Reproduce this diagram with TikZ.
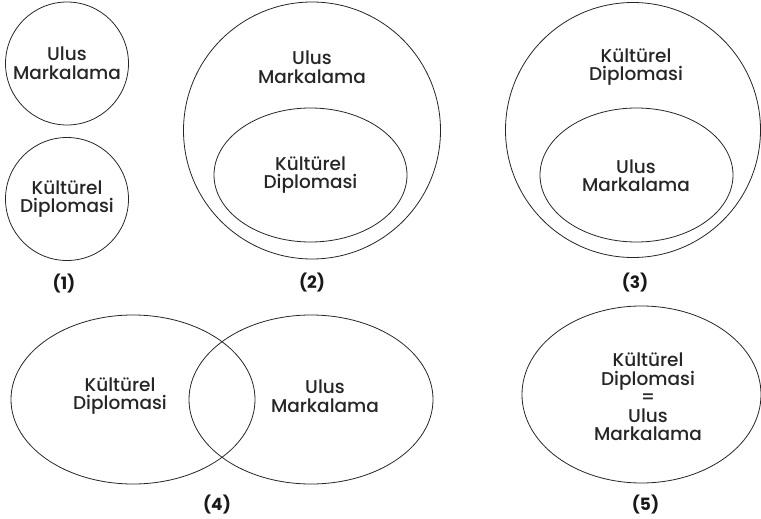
\documentclass[tikz,border=0pt]{standalone}
\usepackage{fontspec}
\setmainfont{Poppins}
\newfontfamily\medfont{Poppins Medium}
\usepackage{tikz}
\usetikzlibrary{positioning}

\tikzset{
  setline/.style={draw=black!85, line width=0.8pt},
  settext/.style={align=center, text=black!85, font=\medfont\fontsize{18.5}{18.5}\selectfont},
  setnum/.style={text=black!90, font=\bfseries\fontsize{17}{18}\selectfont},
}

\begin{document}
\begin{tikzpicture}[x=1pt, y=-1pt]
    \useasboundingbox (0,0) rectangle (761,519);

    % (1) Disjoint circles
    \draw[setline] (67,63.5) circle [radius=61.5pt];
    \draw[setline] (67,199) circle [radius=61.5pt];
    \node[settext] (ulus1) at (67,63) {Ulus\\Markalama};
    \node[settext] (kd1) at (67,199) {Kültürel\\Diplomasi};
    \node[setnum] (n1) at (64,284) {(1)};

    % (2) Cultural diplomacy inside nation branding
    \draw[setline] (312,130.5) circle [radius=128.5pt];
    \draw[setline] (310.5,175) ellipse [x radius=96.5pt, y radius=67pt];
    \node[settext] (ulus2) at (312,67) {Ulus\\Markalama};
    \node[settext] (kd2) at (310.5,175) {Kültürel\\Diplomasi};
    \node[setnum] (n2) at (312,283) {(2)};

    % (3) Nation branding inside cultural diplomacy
    \draw[setline] (633,130) circle [radius=127.5pt];
    \draw[setline] (636.5,175) ellipse [x radius=96.5pt, y radius=67pt];
    \node[settext] (kd3) at (636,67) {Kültürel\\Diplomasi};
    \node[settext] (ulus3) at (636,175.5) {Ulus\\Markalama};
    \node[setnum] (n3) at (635,283) {(3)};

    % (4) Overlap
    \draw[setline] (133,399.5) ellipse [x radius=122pt, y radius=84.5pt];
    \draw[setline] (311,399.5) ellipse [x radius=122pt, y radius=84.5pt];
    \node[settext] (kd4) at (120,396) {Kültürel\\Diplomasi};
    \node[settext] (ulus4) at (325,396) {Ulus\\Markalama};
    \node[setnum] (n4) at (217,505) {(4)};

    % (5) Identical
    \draw[setline] (641.5,394.5) ellipse [x radius=119.5pt, y radius=88.5pt];
    \node[settext] (same5) at (648,397) {Kültürel\\Diplomasi\\=\\Ulus\\Markalama};
    \node[setnum] (n5) at (645.5,505) {(5)};
\end{tikzpicture}
\end{document}
